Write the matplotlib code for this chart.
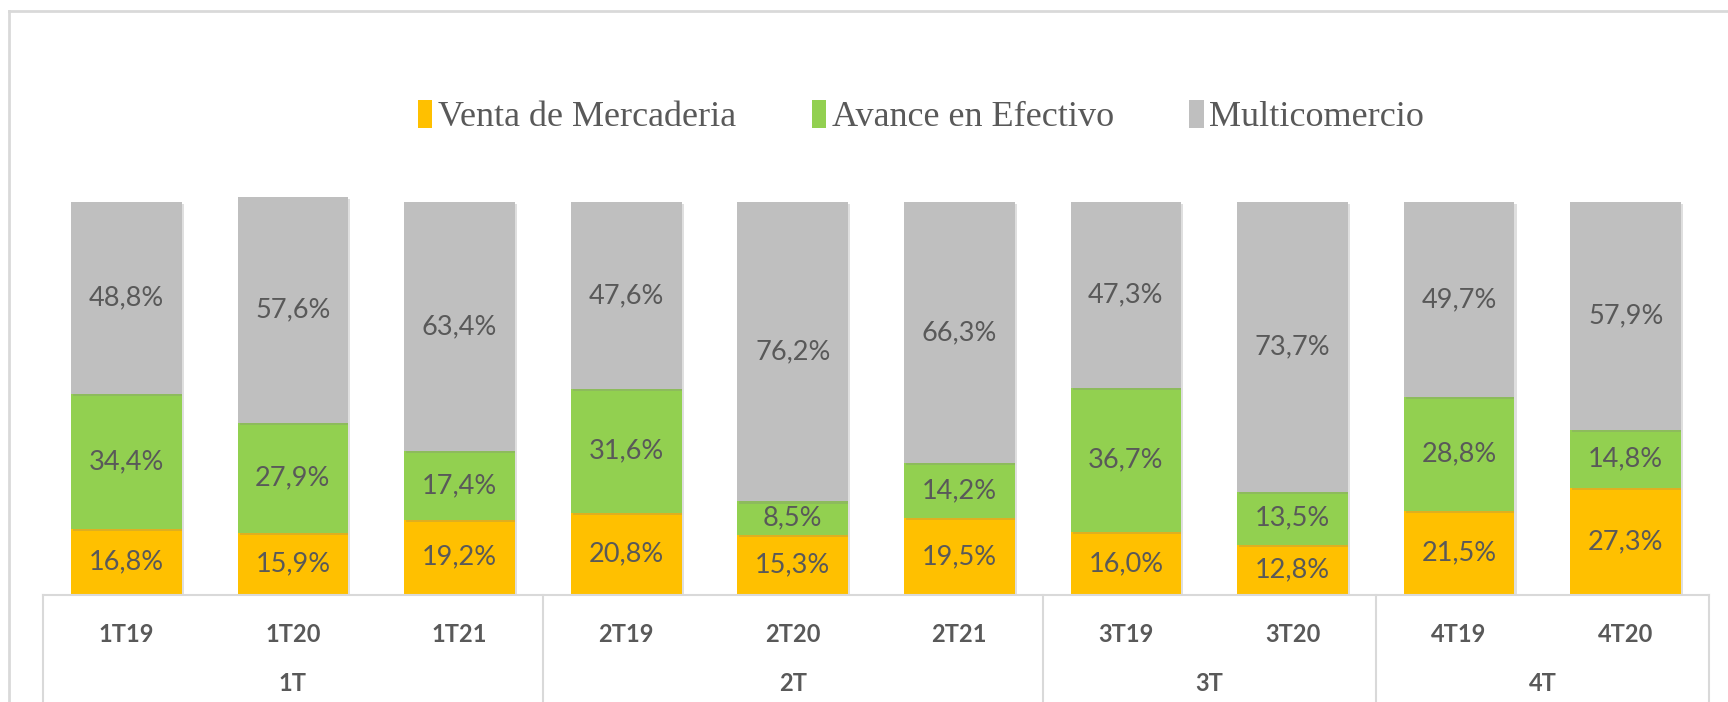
import numpy as np
import matplotlib.pyplot as plt
import matplotlib.patheffects as pe
from matplotlib.lines import Line2D
from matplotlib.patches import Patch

periodos = ['1T19', '1T20', '1T21', '2T19', '2T20', '2T21', '3T19', '3T20', '4T19', '4T20']
trimestres = ['1T', '2T', '3T', '4T']
grupo_tam = [3, 3, 2, 2]

venta = [16.8, 15.9, 19.2, 20.8, 15.3, 19.5, 16.0, 12.8, 21.5, 27.3]
avance = [34.4, 27.9, 17.4, 31.6, 8.5, 14.2, 36.7, 13.5, 28.8, 14.8]
multi = [48.8, 57.6, 63.4, 47.6, 76.2, 66.3, 47.3, 73.7, 49.7, 57.9]

series = ['Venta de Mercaderia', 'Avance en Efectivo', 'Multicomercio']
colores = ['#FFC000', '#92D050', '#BFBFBF']
gris_txt = '#595959'
linea = '#D9D9D9'

fig = plt.figure(figsize=(17.28, 7.02), dpi=100)
ax = fig.add_axes([0.0249, 0.1524, 0.9641, 0.6157])

x = np.arange(len(periodos))
ancho = 0.665
sombra = [pe.SimplePatchShadow(offset=(1.5, -1.5), shadow_rgbFace='#808080', alpha=0.25), pe.Normal()]
base = np.zeros(len(periodos))
for vals, col in zip([venta, avance, multi], colores):
    vals = np.array(vals)
    barras = ax.bar(x, vals, ancho, bottom=base, color=col, edgecolor='none', zorder=2)
    for b in barras:
        b.set_path_effects(sombra)
    for xi, b, v in zip(x, base, vals):
        ax.text(xi, b + v / 2, f'{v:.1f}%'.replace('.', ','), ha='center', va='center',
                fontsize=19.5, color=gris_txt, family='Lato', zorder=3)
    base += vals

ax.set_xlim(-0.5, 9.5)
ax.set_ylim(0, 110)
ax.axis('off')

# caja del eje de categorias
ax.plot([-0.5, 9.5], [0, 0], color=linea, lw=1.5, clip_on=False, zorder=4)
bordes = np.concatenate([[0], np.cumsum(grupo_tam)]) - 0.5
for b in bordes:
    ax.plot([b, b], [0, -30], color=linea, lw=1.5, clip_on=False)

for xi, lab in zip(x, periodos):
    ax.text(xi, -10, lab, ha='center', va='center', fontsize=17, fontweight='bold',
            color=gris_txt, family='Lato')
for i, lab in enumerate(trimestres):
    centro = (bordes[i] + bordes[i + 1]) / 2
    ax.text(centro, -22.5, lab, ha='center', va='center', fontsize=17, fontweight='bold',
            color=gris_txt, family='Lato')

handles = [Patch(facecolor=c, edgecolor='none') for c in colores]
fig.legend(handles, series, loc='center', bbox_to_anchor=(0.533, 0.833), ncol=3, frameon=False,
           prop={'family': 'Liberation Serif', 'size': 26}, labelcolor=gris_txt,
           handlelength=0.4, handleheight=0.8, handletextpad=0.15, columnspacing=2.1)

# marco exterior
fig.add_artist(Line2D([0.0052, 1.0], [0.984, 0.984], color=linea, lw=2))
fig.add_artist(Line2D([0.0052, 0.0052], [0.0, 0.984], color=linea, lw=2))

fig.savefig('out.png', dpi=100)
